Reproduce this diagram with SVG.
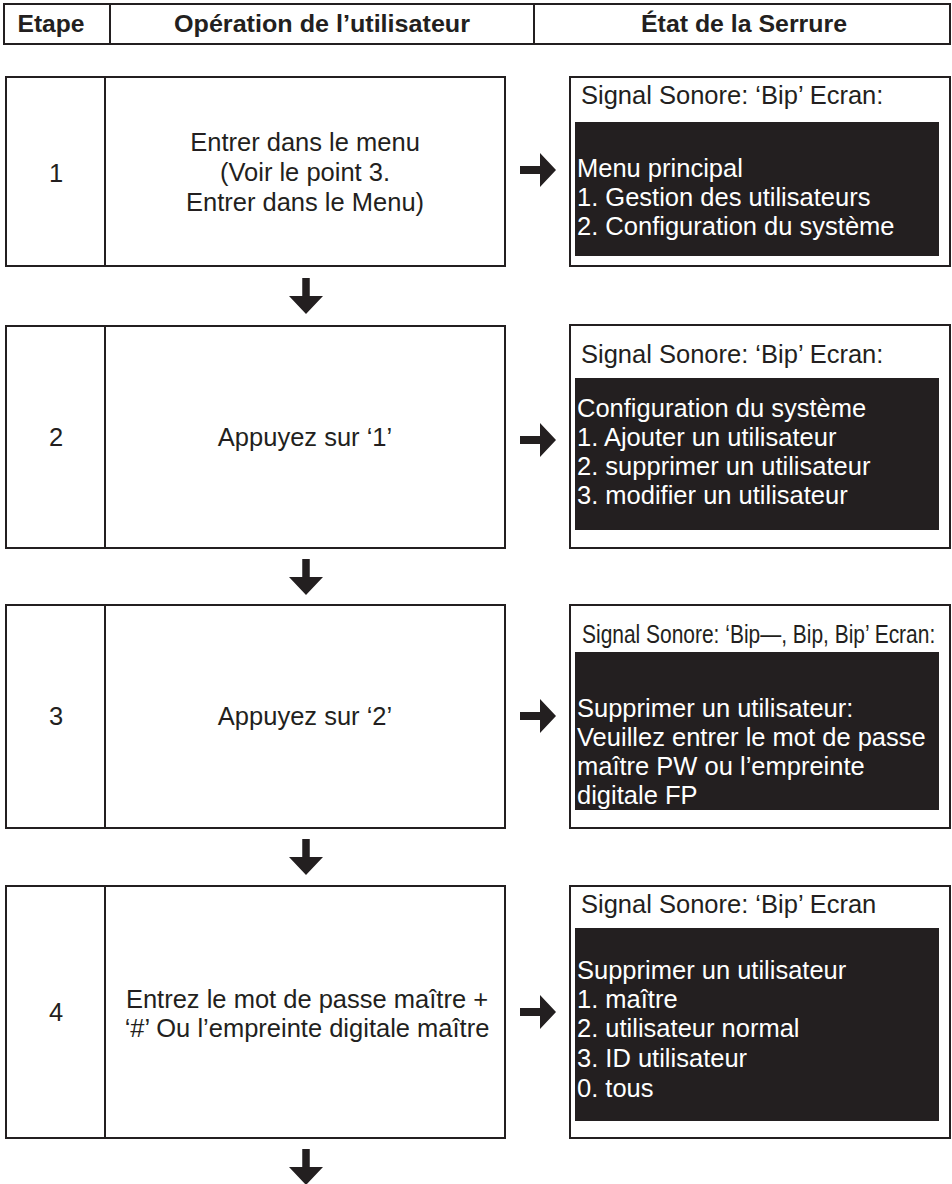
<svg xmlns="http://www.w3.org/2000/svg" width="952" height="1184" viewBox="0 0 952 1184">
<defs>
<style>
.box{fill:#fff;stroke:#231f20;stroke-width:2}
.scr{fill:#231f20}
.t{font-family:"Liberation Sans",Arial,sans-serif;font-size:25.5px;fill:#231f20}
.c{text-anchor:middle}
.w{fill:#fff}
.h{font-family:"Liberation Sans",Arial,sans-serif;font-size:24px;font-weight:bold;fill:#231f20;text-anchor:middle}
.arr{fill:#231f20}
</style>
<g id="arrow-down"><polygon points="-3.75,0 3.75,0 3.75,18 17,18 0,36 -17,18 -3.75,18"/></g>
<g id="arrow-right"><polygon points="0,-4 20,-4 20,-17 36,0 20,17 20,4 0,4"/></g>
</defs>
<rect width="952" height="1184" fill="#fff"/>

<g id="header">
<rect class="box" x="4" y="4" width="946" height="40"/>
<line x1="110" y1="4" x2="110" y2="44" stroke="#231f20" stroke-width="2"/>
<line x1="534" y1="4" x2="534" y2="44" stroke="#231f20" stroke-width="2"/>
<text class="h" x="51" y="32" textLength="67" lengthAdjust="spacingAndGlyphs">Etape</text>
<text class="h" x="322" y="32" textLength="296" lengthAdjust="spacingAndGlyphs">Opération de l’utilisateur</text>
<text class="h" x="744" y="32" textLength="206" lengthAdjust="spacingAndGlyphs">État de la Serrure</text>
</g>

<g id="step1">
<rect class="box" x="6" y="77" width="499" height="189"/>
<line x1="105" y1="77" x2="105" y2="266" stroke="#231f20" stroke-width="2"/>
<text class="t c" x="56" y="182">1</text>
<text class="t c" x="305" y="151">Entrer dans le menu</text>
<text class="t c" x="305" y="181">(Voir le point 3.</text>
<text class="t c" x="305" y="211">Entrer dans le Menu)</text>
</g>
<g id="state1">
<rect class="box" x="570" y="77" width="380" height="189"/>
<text class="t" x="581" y="104">Signal Sonore: ‘Bip’ Ecran:</text>
<rect class="scr" x="575" y="122" width="364" height="134"/>
<text class="t w" x="577" y="177">Menu principal</text>
<text class="t w" x="577" y="206">1. Gestion des utilisateurs</text>
<text class="t w" x="577" y="235">2. Configuration du système</text>
</g>

<g id="step2">
<rect class="box" x="6" y="326" width="499" height="222"/>
<line x1="105" y1="326" x2="105" y2="548" stroke="#231f20" stroke-width="2"/>
<text class="t c" x="56" y="446">2</text>
<text class="t c" x="305" y="446">Appuyez sur ‘1’</text>
</g>
<g id="state2">
<rect class="box" x="570" y="325" width="380" height="223"/>
<text class="t" x="581" y="363">Signal Sonore: ‘Bip’ Ecran:</text>
<rect class="scr" x="575" y="378" width="364" height="152"/>
<text class="t w" x="577" y="417">Configuration du système</text>
<text class="t w" x="577" y="446">1. Ajouter un utilisateur</text>
<text class="t w" x="577" y="475">2. supprimer un utilisateur</text>
<text class="t w" x="577" y="504">3. modifier un utilisateur</text>
</g>

<g id="step3">
<rect class="box" x="6" y="605" width="499" height="223"/>
<line x1="105" y1="605" x2="105" y2="828" stroke="#231f20" stroke-width="2"/>
<text class="t c" x="56" y="725">3</text>
<text class="t c" x="305" y="725">Appuyez sur ‘2’</text>
</g>
<g id="state3">
<rect class="box" x="570" y="605" width="380" height="223"/>
<text class="t" transform="translate(582,643) scale(0.822,1)" x="0" y="0">Signal Sonore: ‘Bip—, Bip, Bip’ Ecran:</text>
<rect class="scr" x="575" y="652" width="364" height="158"/>
<text class="t w" x="577" y="717">Supprimer un utilisateur:</text>
<text class="t w" x="577" y="746">Veuillez entrer le mot de passe</text>
<text class="t w" x="577" y="775">maître PW ou l’empreinte</text>
<text class="t w" x="577" y="804">digitale FP</text>
</g>

<g id="step4">
<rect class="box" x="6" y="886" width="499" height="252"/>
<line x1="105" y1="886" x2="105" y2="1138" stroke="#231f20" stroke-width="2"/>
<text class="t c" x="56" y="1021">4</text>
<text class="t c" x="307" y="1008">Entrez le mot de passe maître +</text>
<text class="t c" x="307" y="1037">‘#’ Ou l’empreinte digitale maître</text>
</g>
<g id="state4">
<rect class="box" x="570" y="886" width="380" height="252"/>
<text class="t" x="581" y="913">Signal Sonore: ‘Bip’ Ecran</text>
<rect class="scr" x="575" y="928" width="364" height="193"/>
<text class="t w" x="577" y="979">Supprimer un utilisateur</text>
<text class="t w" x="577" y="1008">1. maître</text>
<text class="t w" x="577" y="1037">2. utilisateur normal</text>
<text class="t w" x="577" y="1067">3. ID utilisateur</text>
<text class="t w" x="577" y="1097">0. tous</text>
</g>

<g id="connectors" class="arr">
<use href="#arrow-right" x="520" y="170"/>
<use href="#arrow-right" x="520" y="440"/>
<use href="#arrow-right" x="520" y="716"/>
<use href="#arrow-right" x="520" y="1012"/>
<use href="#arrow-down" x="306" y="278"/>
<use href="#arrow-down" x="306" y="559"/>
<use href="#arrow-down" x="306" y="839"/>
<use href="#arrow-down" x="306" y="1149"/>
</g>
</svg>
